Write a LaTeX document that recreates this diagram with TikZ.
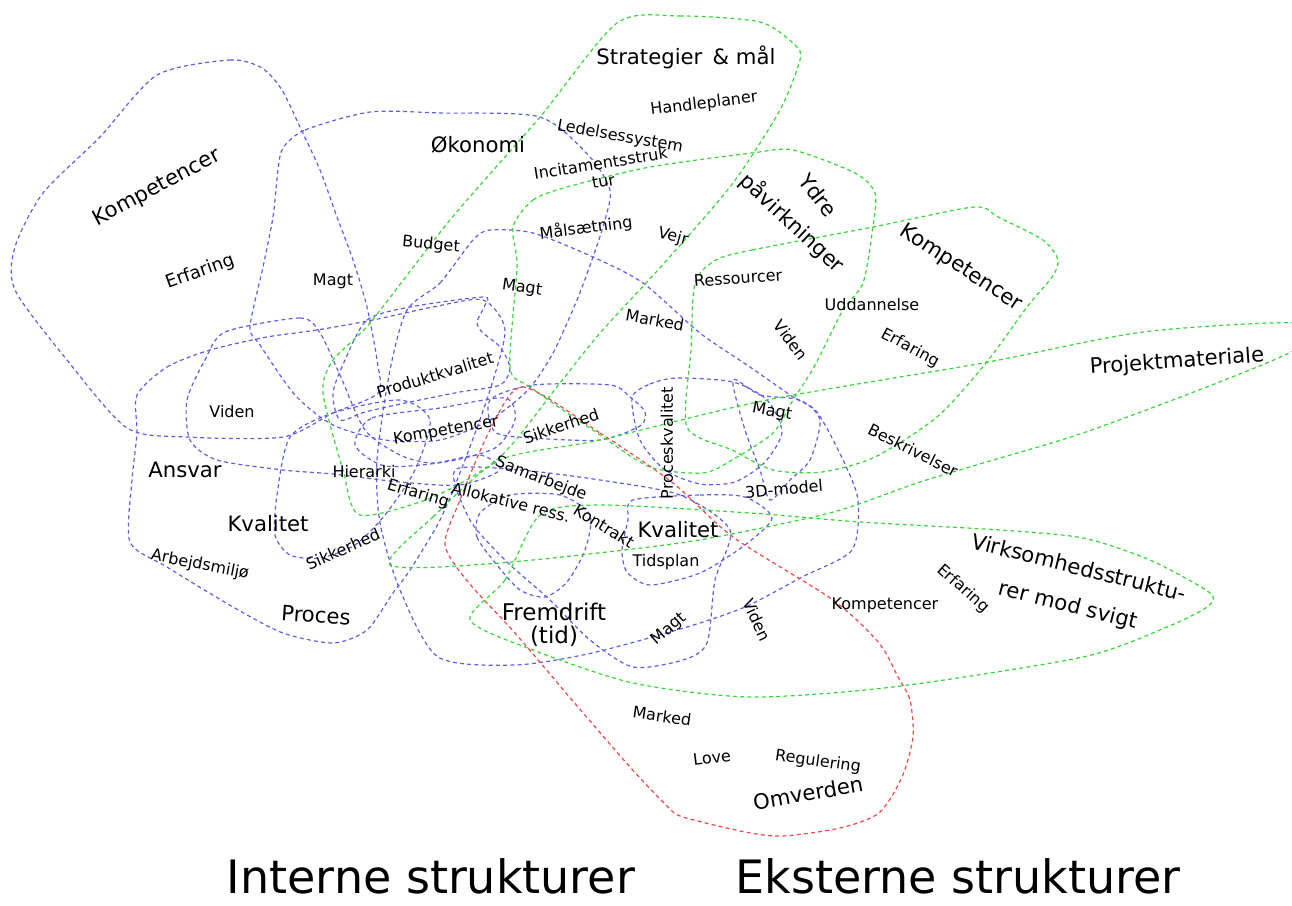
\documentclass[tikz,border=0pt]{standalone}
\usepackage{fontspec}
\setmainfont{DejaVu Sans}
\usetikzlibrary{positioning}
\definecolor{intblue}{RGB}{95,95,225}
\definecolor{extgreen}{RGB}{55,215,55}
\definecolor{extred}{RGB}{240,70,70}
\tikzset{
    intline/.style={
        draw=intblue,dash pattern=on 2pt off 1.6pt,line width=.6pt
    },
    extline/.style={
        draw=extgreen,dash pattern=on 2pt off 1.6pt,line width=.6pt
    },
    envline/.style={
        draw=extred,dash pattern=on 2pt off 1.6pt,line width=.6pt
    },
    lbl/.style={
        inner sep=0pt,font=\fontsize{8pt}{9pt}\selectfont
    },
    biglbl/.style={
        inner sep=0pt,font=\fontsize{10.6pt}{12pt}\selectfont
    },
    titlelbl/.style={
        inner sep=0pt,anchor=base,font=\fontsize{23pt}{26pt}\selectfont
    }
}

\begin{document}
\begin{tikzpicture}[x=.5pt,y=-.5pt]
\useasboundingbox (0,0) rectangle (1292,906);
\clip (0,0) rectangle (1292,906);

% interne strukturer
\draw[intline] plot[smooth cycle,tension=.45] coordinates {(157,75) (230,60) (262,68) (282,90) (300,127) (320,170) (337,217) (353,260) (367,307) (377,360) (378,393) (333,413) (283,437) (187,437) (127,428) (67,360) (15,290) (15,247) (43,193) (100,137)};
\draw[intline] plot[smooth cycle,tension=.45] coordinates {(283,148) (305,130) (370,112) (440,113) (540,117) (590,157) (610,190) (605,220) (593,257) (577,300) (553,353) (528,390) (490,420) (440,440) (385,440) (333,425) (295,395) (260,345) (250,327) (263,267) (273,217) (278,170)};
\draw[intline] plot[smooth cycle,tension=.45] coordinates {(137,395) (167,367) (210,350) (267,337) (317,330) (373,320) (433,307) (483,300) (505,330) (490,390) (465,460) (440,520) (410,570) (393,593) (367,630) (333,643) (283,633) (233,607) (167,567) (130,542) (132,480) (137,433)};
\draw[intline] plot[smooth cycle,tension=.45] coordinates {(290,437) (333,413) (400,400) (430,420) (415,470) (385,515) (355,545) (320,558) (290,555) (275,535) (277,495)};
\draw[intline] plot[smooth cycle,tension=.45] coordinates {(225,332) (300,318) (320,333) (340,375) (365,430) (400,455) (433,463) (480,455) (500,470) (460,485) (400,482) (333,474) (283,470) (217,460) (190,440) (187,400) (205,360)};
\draw[intline] plot[smooth cycle,tension=.45] coordinates {(345,360) (367,320) (410,307) (483,297) (485,305) (477,322) (482,332) (500,347) (510,368) (500,385) (460,392) (410,402) (365,412) (340,420) (333,393)};
\draw[intline] plot[smooth cycle,tension=.45] coordinates {(355,445) (372,418) (440,408) (505,398) (515,420) (495,448) (445,462) (385,466)};
\draw[intline] plot[smooth cycle,tension=.45] coordinates {(490,400) (533,385) (610,385) (630,397) (645,412) (640,426) (600,440) (533,438) (495,432)};
\draw[intline] plot[smooth cycle,tension=.45] coordinates {(632,398) (650,384) (677,378) (733,382) (767,400) (782,432) (765,462) (735,482) (700,484) (665,470) (640,440)};
\draw[intline] plot[smooth cycle,tension=.45] coordinates {(407,310) (440,283) (473,240) (490,230) (533,233) (593,257) (643,283) (700,333) (750,367) (793,397) (817,412) (843,460) (858,500) (852,550) (802,577) (745,607) (687,627) (592,653) (515,665) (438,657) (400,590) (380,523) (377,460) (390,370)};
\draw[intline] plot[smooth cycle,tension=.45] coordinates {(633,500) (700,495) (745,497) (772,518) (745,545) (700,573) (650,585) (627,572) (622,550) (628,520)};
\draw[intline] plot[smooth cycle,tension=.45] coordinates {(455,470) (520,470) (600,480) (680,495) (730,530) (715,580) (707,643) (683,660) (633,667) (590,640) (550,600) (505,560) (470,520)};
\draw[intline] plot[smooth cycle,tension=.45] coordinates {(480,513) (477,537) (497,565) (520,590) (545,597) (567,582) (585,550) (590,515) (560,495) (510,495)};
\draw[intline] plot[smooth cycle,tension=.45] coordinates {(733,380) (760,395) (800,400) (820,420) (810,460) (790,480) (770,500) (760,470) (745,430)};

% eksterne strukturer
\draw[extline] plot[smooth cycle,tension=.45] coordinates {(617,23) (680,16) (760,22) (795,45) (800,60) (780,110) (733,183) (667,260) (600,333) (560,383) (500,457) (433,497) (360,515) (343,470) (323,393) (333,360) (370,323) (450,220) (540,117)};
\draw[extline] plot[smooth cycle,tension=.45] coordinates {(513,227) (533,200) (567,187) (650,167) (752,153) (793,150) (855,173) (875,193) (873,227) (863,283) (843,310) (814,367) (793,400) (773,433) (732,460) (703,473) (650,467) (600,435) (530,387) (510,367) (517,267)};
\draw[extline] plot[smooth cycle,tension=.45] coordinates {(716,260) (752,250) (873,227) (974,207) (998,217) (1043,240) (1058,260) (1052,277) (1027,307) (986,363) (937,417) (875,457) (822,472) (773,470) (732,450) (687,427) (691,350) (695,283)};
\draw[extline] plot[smooth cycle,tension=.45] coordinates {(390,565) (433,517) (500,460) (600,440) (767,400) (983,363) (1143,332) (1300,323) (1300,347) (1217,383) (1083,433) (983,463) (917,483) (850,507) (800,520) (680,543) (500,563)};
\draw[extline] plot[smooth cycle,tension=.45] coordinates {(470,620) (505,580) (540,515) (600,505) (750,513) (860,522) (1000,530) (1083,538) (1150,560) (1210,593) (1207,607) (1167,627) (1083,657) (893,687) (750,697) (633,683) (533,650)};
\draw[envline] plot[smooth cycle,tension=.45] coordinates {(523,387) (600,433) (673,483) (733,537) (833,600) (879,643) (898,677) (910,700) (913,737) (902,777) (879,813) (840,828) (783,836) (745,832) (683,817) (668,807) (630,767) (572,700) (515,633) (469,583) (445,545) (460,500) (490,430)};

% tekster
\node[biglbl,rotate=28] (kompl) at (157,188) {Kompetencer};
\node[lbl,rotate=20,font=\fontsize{9pt}{10pt}\selectfont] (erfl) at (200,272) {Erfaring};
\node[lbl] (magtl) at (333,281) {Magt};
\node[biglbl] (okon) at (478,145) {Økonomi};
\node[lbl,rotate=-5] (budget) at (431,245) {Budget};
\node[lbl,rotate=-8] (magtc) at (522,288) {Magt};
\node[lbl,rotate=7] (maal) at (586,228) {Målsætning};
\node[lbl,rotate=-10] (ledelse) at (620,137) {Ledelsessystem};
\node[lbl,rotate=9,align=center] (incit) at (602,172) {Incitamentsstruk\\tur};
\node[lbl,rotate=7] (handle) at (704,104) {Handleplaner};
\node[biglbl] (strat) at (686,57) {Strategier \,\& mål};
\node[lbl,rotate=-15] (vejr) at (673,237) {Vejr};
\node[lbl,rotate=-10] (markedc) at (655,320) {Marked};
\node[biglbl,rotate=-52] (ydre) at (818,195) {Ydre};
\node[biglbl,rotate=-43] (pavirk) at (792,223) {påvirkninger};
\node[lbl,rotate=4] (ressource) at (738,278) {Ressourcer};
\node[lbl,rotate=-53] (videnr) at (791,340) {Viden};
\node[biglbl,rotate=-33] (kompr) at (961,268) {Kompetencer};
\node[lbl] (uddan) at (872,305) {Uddannelse};
\node[lbl,rotate=-28] (erfr) at (910,348) {Erfaring};
\node[biglbl,rotate=4] (projekt) at (1177,362) {Projektmateriale};
\node[lbl,rotate=-10] (magtr) at (772,412) {Magt};
\node[lbl,rotate=-27] (beskriv) at (913,450) {Beskrivelser};
\node[lbl,rotate=5] (model) at (784,489) {3D-model};
\node[lbl,rotate=90] (prockval) at (667,443) {Proceskvalitet};
\node[lbl] (videnl) at (232,412) {Viden};
\node[lbl,rotate=17] (produkt) at (435,375) {Produktkvalitet};
\node[lbl,rotate=10] (kompc) at (446,431) {Kompetencer};
\node[lbl,rotate=19] (sikkc) at (561,426) {Sikkerhed};
\node[biglbl] (ansvar) at (185,470) {Ansvar};
\node[lbl] (hierarki) at (364,472) {Hierarki};
\node[lbl,rotate=-21] (samarb) at (541,479) {Samarbejde};
\node[lbl,rotate=-16] (erfc) at (418,494) {Erfaring};
\node[lbl,rotate=-14] (allok) at (511,502) {Allokative ress.};
\node[lbl,rotate=-32] (kontrakt) at (604,526) {Kontrakt};
\node[biglbl] (kvall) at (268,524) {Kvalitet};
\node[biglbl] (kvalc) at (678,530) {Kvalitet};
\node[lbl] (tidsplan) at (666,562) {Tidsplan};
\node[lbl,rotate=24] (sikkl) at (343,549) {Sikkerhed};
\node[lbl,rotate=-11] (arbejd) at (200,565) {Arbejdsmiljø};
\node[biglbl,rotate=-4] (proces) at (316,615) {Proces};
\node[biglbl,font=\fontsize{11.5pt}{13pt}\selectfont] (fremdrift) at (554,612) {Fremdrift};
\node[biglbl,font=\fontsize{11.5pt}{13pt}\selectfont,below=2pt of fremdrift] (tid) {(tid)};
\node[lbl,rotate=41] (magtb) at (669,629) {Magt};
\node[lbl,rotate=-65] (videnb) at (757,620) {Viden};
\node[lbl] (kompb) at (885,605) {Kompetencer};
\node[lbl,rotate=-42] (erfb) at (963,589) {Erfaring};
\node[biglbl,rotate=-14] (virk) at (1079,567) {Virksomhedsstruktu-};
\node[biglbl,rotate=-14] (svigt) at (1068,606) {rer mod svigt};
\node[lbl,rotate=-8] (marked) at (662,716) {Marked};
\node[lbl,rotate=7] (love) at (712,758) {Love};
\node[lbl,rotate=-8] (regul) at (818,762) {Regulering};
\node[biglbl,rotate=10] (omverden) at (808,793) {Omverden};
\node[titlelbl] (interne) at (431,893) {Interne strukturer};
\node[titlelbl] (eksterne) at (958,893) {Eksterne strukturer};
\end{tikzpicture}
\end{document}
